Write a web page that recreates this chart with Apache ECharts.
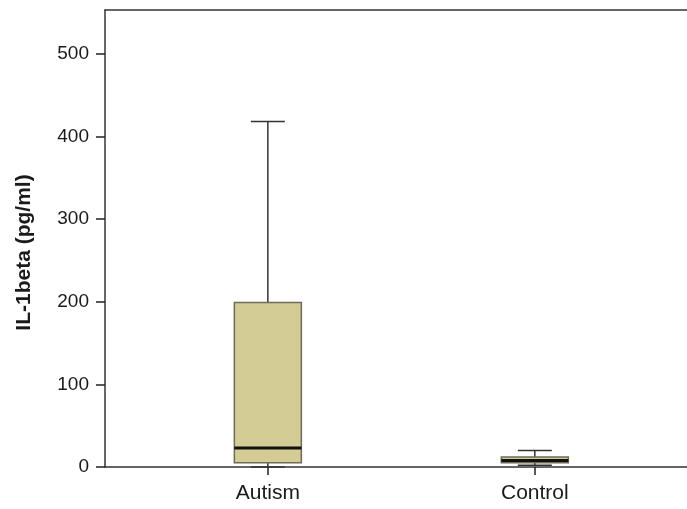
<!DOCTYPE html>
<html>
<head>
    <meta charset="UTF-8">
    <title>IL-1beta</title>
    <style>
        html, body { margin: 0; padding: 0; background: #fff; }
        #chart { width: 687px; height: 509px; }
    </style>
</head>
<body>
    <div id="chart"></div>
    <script src="https://cdn.jsdelivr.net/npm/echarts/dist/echarts.min.js"></script>
    <script>
        // groups and five-number summaries (pg/ml)
        var categories = ['Autism', 'Control'];
        var minValues = [0, 2];
        var q1Values = [5, 5];
        var medianValues = [23, 8];
        var q3Values = [199, 12];
        var maxValues = [418, 20];
        var yTicks = [0, 100, 200, 300, 400, 500];

        var boxData = [];
        for (var i = 0; i < categories.length; i++) {
            boxData.push([i + 1, minValues[i], q1Values[i], medianValues[i], q3Values[i], maxValues[i]]);
        }

        var font = '"Liberation Sans", Arial, sans-serif';

        function renderBox(params, api) {
            var x = api.value(0);
            var pMin = api.coord([x, api.value(1)]);
            var pQ1 = api.coord([x, api.value(2)]);
            var pMed = api.coord([x, api.value(3)]);
            var pQ3 = api.coord([x, api.value(4)]);
            var pMax = api.coord([x, api.value(5)]);
            var half = 33.5, cap = 17;
            var cx = pMed[0];
            var lineStyle = { stroke: '#333', lineWidth: 1.5 };
            return {
                type: 'group',
                children: [
                    { type: 'line', shape: { x1: cx, y1: pMax[1], x2: cx, y2: pQ3[1] }, style: lineStyle },
                    { type: 'line', shape: { x1: cx - cap, y1: pMax[1], x2: cx + cap, y2: pMax[1] }, style: lineStyle },
                    { type: 'line', shape: { x1: cx, y1: pMin[1], x2: cx, y2: pQ1[1] }, style: lineStyle },
                    { type: 'line', shape: { x1: cx - cap, y1: pMin[1], x2: cx + cap, y2: pMin[1] }, style: lineStyle },
                    {
                        type: 'rect',
                        shape: { x: cx - half, y: pQ3[1], width: half * 2, height: pQ1[1] - pQ3[1] },
                        style: { fill: '#d3cd95', stroke: '#6e6b58', lineWidth: 1.5 }
                    },
                    { type: 'line', shape: { x1: cx - half, y1: pMed[1], x2: cx + half, y2: pMed[1] }, style: { stroke: '#111', lineWidth: 3 } }
                ]
            };
        }

        var axisLineStyle = { color: '#333', width: 1.5 };

        var chart = echarts.init(document.getElementById('chart'));
        var option = {
            backgroundColor: '#fff',
            animation: false,
            grid: { left: 105, right: 0, top: 10, bottom: 42 },
            xAxis: [{
                type: 'value',
                min: 0.39,
                max: 2.57,
                splitLine: { show: false },
                axisLine: { lineStyle: axisLineStyle },
                axisTick: { customValues: [1, 2], length: 8, lineStyle: { color: '#222', width: 1.5 } },
                axisLabel: {
                    customValues: [1, 2],
                    formatter: function (v) { return categories[Math.round(v) - 1]; },
                    margin: 16,
                    fontSize: 21,
                    color: '#1a1a1a',
                    fontFamily: font
                }
            }, {
                // top frame line
                type: 'value',
                position: 'top',
                min: 0.39,
                max: 2.57,
                splitLine: { show: false },
                axisLine: { show: true, lineStyle: axisLineStyle },
                axisTick: { show: false },
                axisLabel: { show: false }
            }],
            yAxis: {
                type: 'value',
                min: 0,
                max: 553,
                name: 'IL-1beta (pg/ml)',
                nameLocation: 'middle',
                nameGap: 70,
                nameTextStyle: {
                    fontSize: 21, fontWeight: 'bold', color: '#1a1a1a', fontFamily: font,
                    padding: [0, 28, 0, 0]
                },
                splitLine: { show: false },
                axisLine: { lineStyle: axisLineStyle },
                axisTick: { customValues: yTicks, length: 9, lineStyle: { color: '#222', width: 1.5 } },
                axisLabel: { customValues: yTicks, margin: 16, fontSize: 19, color: '#1a1a1a', fontFamily: font }
            },
            series: [{
                type: 'custom',
                renderItem: renderBox,
                encode: { x: 0, y: [1, 2, 3, 4, 5] },
                data: boxData
            }]
        };
        chart.setOption(option);
    </script>
</body>
</html>
